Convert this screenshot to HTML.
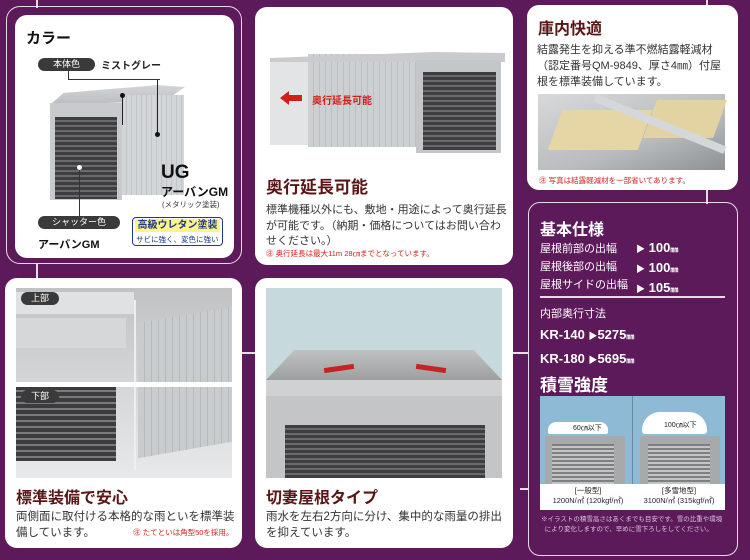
<!DOCTYPE html>
<html><head><meta charset="utf-8"><style>
*{margin:0;padding:0;box-sizing:border-box}
body{width:750px;height:560px;background:#5c1a5a;position:relative;overflow:hidden;font-family:"Liberation Sans","Noto Sans CJK JP",sans-serif;color:#333}
.a{position:absolute}
.card{position:absolute;background:#fff;border-radius:12px}
.ol{position:absolute;border:1.5px solid #e8dbe8;border-radius:14px}
.t{position:absolute;white-space:nowrap}
.h{font-weight:bold;color:#5a1616}
.sh{background:repeating-linear-gradient(#3e3e40 0 3px,#6a6a6c 3px 5px)}
.pill{position:absolute;background:#3a3a3a;color:#fff;border-radius:8px;font-size:9px;text-align:center;line-height:13px}
.red{color:#d0201a;font-size:7.5px}
.w{color:#fff}
</style></head><body>
<div class="ol" style="left:6px;top:6px;width:236px;height:258px"></div>
<div class="a" style="left:36px;top:0;width:1.5px;height:8px;background:#e8dbe8"></div>
<div class="a" style="left:36px;top:263px;width:1.5px;height:18px;background:#e8dbe8"></div>
<div class="a" style="left:242px;top:352px;width:14px;height:1.5px;background:#e8dbe8"></div>
<div class="a" style="left:512px;top:352px;width:16px;height:1.5px;background:#e8dbe8"></div>
<div class="a" style="left:706px;top:0;width:1.5px;height:6px;background:#e8dbe8"></div>
<div class="a" style="left:706px;top:188px;width:1.5px;height:16px;background:#e8dbe8"></div>
<div class="a" style="left:520px;top:488px;width:8px;height:1.5px;background:#e8dbe8"></div>

<!-- card 1 -->
<div class="card" style="left:15px;top:15px;width:219px;height:243px"></div>
<div class="t" style="left:26px;top:27px;font-size:15px;font-weight:bold;color:#111">カラー</div>
<div class="pill" style="left:38px;top:58px;width:57px">本体色</div>
<div class="t" style="left:101px;top:57px;font-size:10px;font-weight:bold;color:#222">ミストグレー</div>
<div class="a" style="left:68px;top:70px;width:1px;height:10px;background:#333"></div>
<div class="a" style="left:68px;top:79px;width:92px;height:1px;background:#333"></div>
<div class="a" style="left:50px;top:85px;width:135px;height:20px;background:linear-gradient(#d4d6d8,#b9bcbe);clip-path:polygon(10% 40%,80% 0,100% 10%,85% 80%,0 100%)"></div>
<div class="a" style="left:50px;top:103px;width:72px;height:97px;background:#c8cbcd"></div>
<div class="a" style="left:122px;top:95px;width:62px;height:100px;background:repeating-linear-gradient(90deg,#d3d6d8 0 4px,#c2c5c7 4px 5px)"></div>
<div class="a sh" style="left:55px;top:117px;width:62px;height:82px"></div>
<div class="a" style="left:122px;top:95px;width:1px;height:30px;background:#222"></div>
<div class="a" style="left:120px;top:93px;width:5px;height:5px;border-radius:50%;background:#111"></div>
<div class="a" style="left:157px;top:80px;width:1px;height:52px;background:#222"></div>
<div class="a" style="left:155px;top:132px;width:5px;height:5px;border-radius:50%;background:#111"></div>
<div class="a" style="left:77px;top:165px;width:5px;height:5px;border-radius:50%;background:#fff"></div>
<div class="a" style="left:79px;top:170px;width:1px;height:46px;background:#333"></div>
<div class="t" style="left:161px;top:162px;font-size:19px;font-weight:bold;color:#111">UG</div>
<div class="t" style="left:161px;top:183px;font-size:12px;font-weight:bold;color:#111">アーバンGM</div>
<div class="t" style="left:162px;top:199px;font-size:7.5px;color:#333">(メタリック塗装)</div>
<div class="pill" style="left:38px;top:216px;width:82px">シャッター色</div>
<div class="t" style="left:38px;top:236px;font-size:11px;font-weight:bold;color:#111">アーバンGM</div>
<div class="a" style="left:132px;top:217px;width:91px;height:29px;border:1.5px solid #1f3a8a;border-radius:4px;background:#fff"></div>
<div class="a" style="left:135px;top:219px;width:85px;height:13px;background:#fff48a;color:#1f3a8a;font-size:10px;font-weight:bold;text-align:center;line-height:13px">高級ウレタン塗装</div>
<div class="t" style="left:136px;top:234px;font-size:7.5px;color:#1f3a8a">サビに強く、変色に強い</div>

<!-- card 2 -->
<div class="card" style="left:255px;top:7px;width:258px;height:258px"></div>
<div class="a" style="left:270px;top:62px;width:40px;height:83px;background:#e2e4e5"></div>
<div class="a" style="left:308px;top:54px;width:108px;height:93px;background:repeating-linear-gradient(90deg,#cdd0d2 0 5px,#bcbfc1 5px 6px)"></div>
<div class="a" style="left:270px;top:52px;width:235px;height:10px;background:#c9cbcd;clip-path:polygon(0 60%,70% 0,100% 10%,100% 100%,0 100%)"></div>
<div class="a" style="left:416px;top:60px;width:85px;height:93px;background:#c4c7c9"></div>
<div class="a sh" style="left:423px;top:72px;width:73px;height:78px"></div>
<div class="a" style="left:288px;top:95px;width:14px;height:6px;background:#d0201a"></div>
<div class="a" style="left:280px;top:91px;width:0;height:0;border-top:7px solid transparent;border-bottom:7px solid transparent;border-right:9px solid #d0201a"></div>
<div class="t" style="left:312px;top:92px;font-size:10px;font-weight:bold;color:#d0201a">奥行延長可能</div>
<div class="t h" style="left:266px;top:173px;font-size:17px">奥行延長可能</div>
<div class="t" style="left:266px;top:203px;font-size:11px;line-height:15.5px;color:#333">標準機種以外にも、敷地・用途によって奥行延長<br>が可能です。（納期・価格についてはお問い合わ<br>せください。）</div>
<div class="t red" style="left:266px;top:248px">㊟ 奥行延長は最大11m 28㎝までとなっています。</div>

<!-- card 3 -->
<div class="card" style="left:527px;top:5px;width:211px;height:185px"></div>
<div class="t h" style="left:538px;top:15px;font-size:16px">庫内快適</div>
<div class="t" style="left:537px;top:42px;font-size:11px;line-height:16px;color:#333">結露発生を抑える準不燃結露軽減材<br>（認定番号QM-9849、厚さ4㎜）付屋<br>根を標準装備しています。</div>
<div class="a" style="left:538px;top:94px;width:187px;height:76px;background:linear-gradient(160deg,#d7d9da,#b9bcbe 60%,#8e9194)"></div>
<div class="a" style="left:555px;top:110px;width:90px;height:40px;background:#e6d6a6;transform:skewX(-20deg)"></div>
<div class="a" style="left:650px;top:100px;width:70px;height:38px;background:#e4d3a2;transform:skewX(-20deg)"></div>
<div class="a" style="left:590px;top:120px;width:140px;height:8px;background:#d5d8da;transform:rotate(22deg)"></div>
<div class="t red" style="left:539px;top:175px">㊟ 写真は結露軽減材を一部省いてあります。</div>

<!-- spec box -->
<div class="a" style="left:528px;top:202px;width:210px;height:354px;border:1.5px solid #e8dbe8;border-radius:12px"></div>
<div class="t w" style="left:540px;top:216px;font-size:16px;font-weight:bold">基本仕様</div>
<div class="t w" style="left:540px;top:240px;font-size:11px;line-height:18px">屋根前部の出幅<br>屋根後部の出幅<br>屋根サイドの出幅</div>
<div class="t w" style="left:636px;top:239px;font-size:13px;line-height:18px;font-weight:bold"><span style="font-size:9px">▶</span> 100<small style="font-size:8px">㎜</small><br><span style="font-size:9px">▶</span> 100<small style="font-size:8px">㎜</small><br><span style="font-size:9px">▶</span> 105<small style="font-size:8px">㎜</small></div>
<div class="a" style="left:540px;top:296px;width:185px;height:1.5px;background:#e8dbe8"></div>
<div class="t w" style="left:540px;top:305px;font-size:11px">内部奥行寸法</div>
<div class="t w" style="left:540px;top:324px;font-size:13px;line-height:22px;font-weight:bold">KR-140 <span style="font-size:9px">▶</span>5275<small style="font-size:8px">㎜</small><br>KR-180 <span style="font-size:9px">▶</span>5695<small style="font-size:8px">㎜</small></div>
<div class="t w" style="left:540px;top:371px;font-size:17px;font-weight:bold">積雪強度</div>
<div class="a" style="left:540px;top:396px;width:185px;height:114px;background:#8fbad6"></div>
<div class="a" style="left:632px;top:396px;width:1px;height:90px;background:#6a8aa0"></div>
<div class="a" style="left:548px;top:422px;width:60px;height:12px;background:#fff;border-radius:8px 8px 2px 2px"></div>
<div class="t" style="left:573px;top:423px;font-size:7px;color:#222">60㎝以下</div>
<div class="a" style="left:545px;top:436px;width:80px;height:48px;background:#a7a9ab"></div>
<div class="a" style="left:552px;top:444px;width:62px;height:40px;background:repeating-linear-gradient(#7d7f81 0 2px,#c2c4c6 2px 4px)"></div>
<div class="a" style="left:642px;top:412px;width:65px;height:22px;background:#fff;border-radius:18px 18px 3px 3px"></div>
<div class="t" style="left:664px;top:420px;font-size:7px;color:#222">100㎝以下</div>
<div class="a" style="left:640px;top:436px;width:80px;height:48px;background:#a7a9ab"></div>
<div class="a" style="left:648px;top:444px;width:62px;height:40px;background:repeating-linear-gradient(#7d7f81 0 2px,#c2c4c6 2px 4px)"></div>
<div class="a" style="left:540px;top:484px;width:185px;height:26px;background:#fff"></div>
<div class="t" style="left:545px;top:486px;font-size:7.5px;line-height:10px;color:#222;text-align:center;width:86px">[一般型]<br>1200N/㎡ (120kgf/㎡)</div>
<div class="t" style="left:634px;top:486px;font-size:7.5px;line-height:10px;color:#222;text-align:center;width:90px">[多雪地型]<br>3100N/㎡ (315kgf/㎡)</div>
<div class="t" style="left:541px;top:515px;font-size:6.5px;line-height:10px;color:#d9c6d8">※イラストの積雪高さはあくまでも目安です。雪の比重や環境<br>&nbsp;&nbsp;により変化しますので、早めに雪下ろしをしてください。</div>

<!-- card 4 -->
<div class="card" style="left:5px;top:278px;width:237px;height:270px"></div>
<div class="a" style="left:16px;top:288px;width:216px;height:190px;background:linear-gradient(#c0c2c4,#e8e9ea)"></div>
<div class="a" style="left:16px;top:292px;width:118px;height:22px;background:#dfe1e2"></div>
<div class="a" style="left:16px;top:318px;width:110px;height:30px;background:#d5d7d8"></div>
<div class="a" style="left:138px;top:315px;width:94px;height:135px;background:repeating-linear-gradient(90deg,#c9cccd 0 6px,#b7babc 6px 7px);transform:skewY(-10deg)"></div>
<div class="a" style="left:134px;top:300px;width:2px;height:170px;background:#eeeeee"></div>
<div class="a" style="left:16px;top:386px;width:100px;height:75px;background:repeating-linear-gradient(#3c3c3e 0 4px,#7a7a7c 4px 6px)"></div>
<div class="a" style="left:16px;top:382px;width:216px;height:5px;background:#fff"></div>
<div class="pill" style="left:21px;top:292px;width:38px;border-radius:7px">上部</div>
<div class="pill" style="left:21px;top:390px;width:38px;border-radius:7px">下部</div>
<div class="t h" style="left:16px;top:484px;font-size:16px">標準装備で安心</div>
<div class="t" style="left:16px;top:509px;font-size:11.5px;line-height:16px;color:#333">両側面に取付ける本格的な雨といを標準装<br>備しています。</div>
<div class="t red" style="left:133px;top:527px">㊟ たてといは角型50を採用。</div>

<!-- card 5 -->
<div class="card" style="left:255px;top:278px;width:258px;height:270px"></div>
<div class="a" style="left:266px;top:288px;width:236px;height:190px;background:#c6d9dd"></div>
<div class="a" style="left:266px;top:350px;width:236px;height:30px;background:linear-gradient(#bfc1c3,#9d9fa1);clip-path:polygon(12% 0,88% 0,100% 100%,0 100%)"></div>
<div class="a" style="left:266px;top:380px;width:236px;height:16px;background:#cfd1d3"></div>
<div class="a" style="left:266px;top:396px;width:236px;height:82px;background:#c3c5c7"></div>
<div class="a sh" style="left:285px;top:425px;width:200px;height:53px"></div>
<div class="a" style="left:324px;top:366px;width:30px;height:5px;background:#c82222;transform:rotate(-8deg)"></div>
<div class="a" style="left:416px;top:366px;width:30px;height:5px;background:#c82222;transform:rotate(8deg)"></div>
<div class="t h" style="left:266px;top:484px;font-size:16px">切妻屋根タイプ</div>
<div class="t" style="left:266px;top:509px;font-size:11.5px;line-height:16px;color:#333">雨水を左右2方向に分け、集中的な雨量の排出<br>を抑えています。</div>
</body></html>
